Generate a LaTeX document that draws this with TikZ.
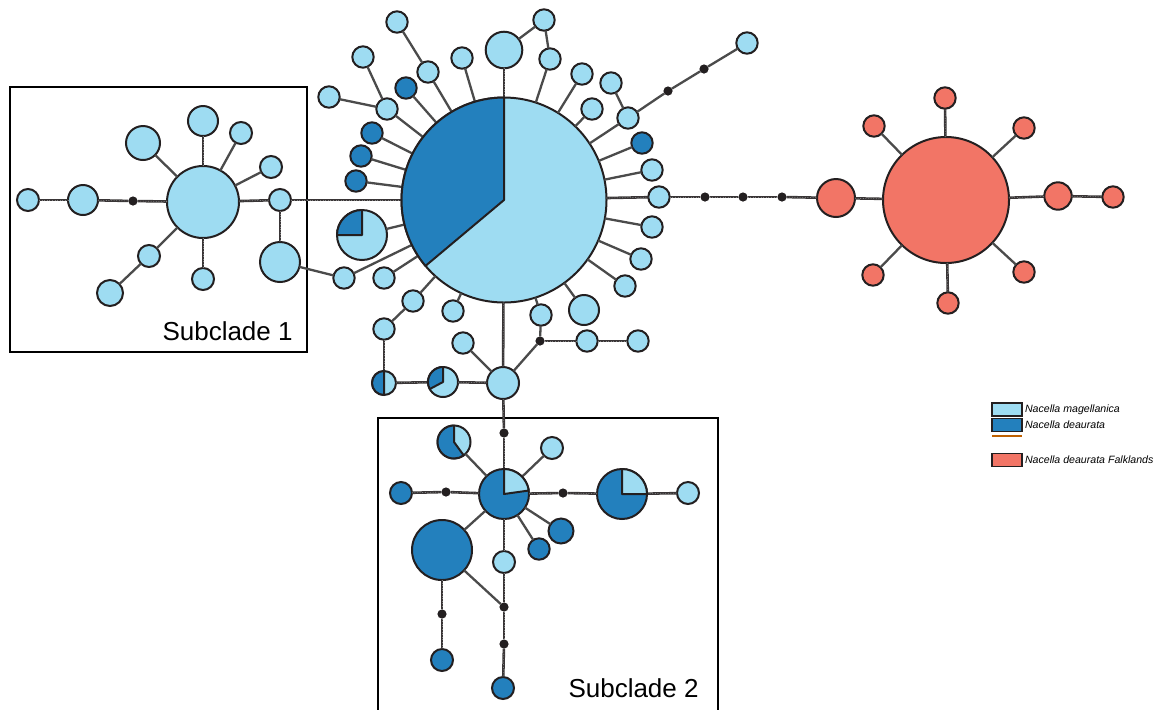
\documentclass[tikz,border=0pt]{standalone}
\usepackage{fontspec}
\setmainfont{Liberation Sans}
\definecolor{magc}{RGB}{158,220,242}
\definecolor{deac}{RGB}{35,128,189}
\definecolor{falc}{RGB}{242,117,102}
\definecolor{outl}{RGB}{35,31,32}
\definecolor{linkc}{RGB}{75,75,75}
\newcommand\pieslice[5]{\filldraw[fill=#5,draw=outl,line width=1pt,line join=round]
  (#1.center) -- (#1.#2) arc[start angle=#2,end angle=#3,radius=#4*0.5pt] -- cycle;}

\begin{document}
\begin{tikzpicture}[x=0.5pt,y=-0.5pt,
  hap/.style={circle,draw=outl,line width=1pt,inner sep=0pt,outer sep=0pt,minimum size=#1pt},
  mag/.style={hap=#1,fill=magc},mag/.default=10.7,
  dea/.style={hap=#1,fill=deac},dea/.default=10.7,
  fal/.style={hap=#1,fill=falc},fal/.default=10.7,
  med/.style={circle,fill=outl,inner sep=0pt,outer sep=0pt,minimum size=4.6pt},
  link/.style={draw=linkc,line width=1.15pt},
  mlink/.style={draw=outl!90,line width=1.3pt,postaction={draw=linkc!70,line width=0.3pt,dash pattern=on 0.5pt off 0.8pt}},
  frame/.style={draw=black,line width=1.2pt},
  legbox/.style={draw=outl,line width=0.6pt,minimum width=15pt,minimum height=6.5pt,inner sep=0pt},
  legtext/.style={anchor=west,inner sep=1pt,font=\itshape\fontsize{5.3}{6.4}\selectfont}]

  \useasboundingbox (0,0) rectangle (1155,709);

  \draw[frame] (10,87) rectangle (307,352);
  \draw[frame] (378,418) rectangle (718,730);

  \node[mag=102.5] (0) at (504,200){};
  \node[mag] (1) at (397,22){};
  \node[mag] (2) at (428,72){};
  \node[mag] (3) at (363,57){};
  \node[mag] (4) at (329,97){};
  \node[mag] (5) at (387,109){};
  \node[dea] (6) at (406,88){};
  \node[mag] (7) at (462,58){};
  \node[mag=18.3] (8) at (504,50){};
  \node[mag] (9) at (544,20){};
  \node[mag] (10) at (550,59){};
  \node[mag] (11) at (582,74){};
  \node[mag] (12) at (611,83){};
  \node[mag] (13) at (628,118){};
  \node[mag] (14) at (592,109){};
  \node[dea] (15) at (642,143){};
  \node[mag] (16) at (652,170){};
  \node[mag] (17) at (659,197){};
  \node[mag] (18) at (652,227){};
  \node[mag] (19) at (641,259){};
  \node[mag] (20) at (625,286){};
  \node[mag=15] (21) at (584,310){};
  \node[mag] (22) at (541,315){};
  \node[mag] (23) at (453,311){};
  \node[mag] (24) at (413,301){};
  \node[mag] (25) at (384,278){};
  \node[mag] (26) at (344,278){};
  \node[mag=25] (27) at (362,235){};
  \node[dea] (28) at (356,181){};
  \node[dea] (29) at (361,156){};
  \node[dea] (30) at (372,133){};
  \node[mag] (31) at (747,43){};
  \node[med] (32) at (668,91){};
  \node[med] (33) at (704,69){};

  \node[mag] (34) at (384,329){};
  \node[mag=12] (35) at (384,383){};
  \node[mag=15] (36) at (443,382){};
  \node[mag=16] (37) at (503,383){};
  \node[mag] (38) at (463,343){};
  \node[med] (39) at (540,341){};
  \node[mag] (40) at (587,341){};
  \node[mag] (41) at (638,341){};

  \node[mag=36] (42) at (203,202){};
  \node[mag=11] (43) at (28,200){};
  \node[mag=15] (44) at (83,200){};
  \node[med] (45) at (133,201){};
  \node[mag=17] (46) at (143,143){};
  \node[mag=15] (47) at (203,121){};
  \node[mag=11] (48) at (241,133){};
  \node[mag=11] (49) at (271,167){};
  \node[mag=11] (50) at (280,200){};
  \node[mag=20] (51) at (280,262){};
  \node[mag=11] (52) at (149,256){};
  \node[mag=13] (53) at (110,293){};
  \node[mag=11] (54) at (203,279){};

  \node[med] (55) at (504,433){};
  \node[dea=25] (56) at (504,494){};
  \node[mag=16.5] (57) at (454,442){};
  \node[mag=11] (58) at (552,448){};
  \node[med] (59) at (446,492){};
  \node[dea=11] (60) at (401,493){};
  \node[med] (61) at (563,493){};
  \node[dea=25] (62) at (622,494){};
  \node[mag=11] (63) at (688,493){};
  \node[dea=12.5] (64) at (561,531){};
  \node[dea] (65) at (539,549){};
  \node[mag=11] (66) at (504,562){};
  \node[dea=30] (67) at (442,550){};
  \node[med] (68) at (504,607){};
  \node[med] (69) at (442,614){};
  \node[dea=11] (70) at (442,660){};
  \node[med] (71) at (504,644){};
  \node[dea=11] (72) at (503,688){};

  \node[med] (73) at (705,197){};
  \node[med] (74) at (743,197){};
  \node[med] (75) at (782,197){};
  \node[fal=19] (76) at (836,198){};
  \node[fal=63] (77) at (946,200){};
  \node[fal] (78) at (945,98){};
  \node[fal] (79) at (874,126){};
  \node[fal] (80) at (1024,128){};
  \node[fal=13.7] (81) at (1058,196){};
  \node[fal] (82) at (1113,197){};
  \node[fal] (83) at (1024,272){};
  \node[fal] (84) at (948,303){};
  \node[fal] (85) at (873,275){};

  \path[link]
    (0) edge (2) (2) edge (1) (0) edge (5) (5) edge (3) (5) edge (4)
    (0) edge (6) (0) edge (7) (0) edge[mlink] (8) (8) edge (9) (9) edge (10)
    (10) edge (0) (0) edge (11) (12) edge (13) (13) edge (0) (0) edge (14)
    (0) edge (15) (0) edge (16) (0) edge[mlink] (17) (0) edge (18) (0) edge (19)
    (0) edge (20) (0) edge (21) (0) edge (22) (0) edge (23) (0) edge (24)
    (24) edge (34) (0) edge (25) (0) edge (26) (26) edge (51) (0) edge (27)
    (0) edge (28) (0) edge (29) (0) edge (30)
    (13) edge (32) (32) edge (33) (33) edge (31)
    (0) edge[mlink] (50) (0) edge[mlink] (37)
    (34) edge[mlink] (35) (35) edge[mlink] (36) (36) edge[mlink] (37)
    (37) edge (38) (37) edge (39) (39) edge (22)
    (39) edge[mlink] (40) (40) edge[mlink] (41)
    (43) edge[mlink] (44) (44) edge[mlink] (45) (45) edge[mlink] (42)
    (42) edge (46) (42) edge[mlink] (47) (42) edge (48) (42) edge (49)
    (42) edge[mlink] (50) (50) edge[mlink] (51) (42) edge (52) (52) edge (53)
    (42) edge[mlink] (54)
    (37) edge[mlink] (55) (55) edge[mlink] (56) (56) edge (57) (56) edge (58)
    (56) edge[mlink] (59) (59) edge[mlink] (60) (56) edge[mlink] (61)
    (61) edge[mlink] (62) (62) edge[mlink] (63) (56) edge (64) (56) edge (65)
    (56) edge[mlink] (66) (66) edge[mlink] (68) (56) edge (67) (67) edge (68)
    (67) edge[mlink] (69) (69) edge[mlink] (70) (68) edge[mlink] (71)
    (71) edge[mlink] (72)
    (17) edge[mlink] (73) (73) edge[mlink] (74) (74) edge[mlink] (75)
    (75) edge[mlink] (76) (76) edge[mlink] (77) (77) edge[mlink] (78)
    (77) edge (79) (77) edge (80) (77) edge[mlink] (81) (81) edge[mlink] (82)
    (77) edge (83) (77) edge[mlink] (84) (77) edge (85);

  \pieslice{0}{90}{220}{102.5}{deac}
  \pieslice{27}{90}{180}{25}{deac}
  \pieslice{35}{90}{270}{12}{deac}
  \pieslice{36}{90}{208}{15}{deac}
  \pieslice{57}{90}{306}{16.5}{deac}
  \pieslice{56}{8}{90}{25}{magc}
  \pieslice{62}{0}{90}{25}{magc}

  \node[anchor=base east,inner sep=0pt,font=\fontsize{13}{15}\selectfont] (s1) at (293,340) {Subclade 1};
  \node[anchor=base east,inner sep=0pt,font=\fontsize{13}{15}\selectfont] (s2) at (699,697) {Subclade 2};

  \node[legbox,fill=magc] (l1) at (1007,409.5){};
  \node[legbox,fill=deac] (l2) at (1007,425){};
  \fill[orange!75!black] (992,434.5) rectangle (1022,436.5);
  \node[legbox,fill=falc] (l3) at (1007,460){};
  \node[legtext] at (l1.east) {Nacella magellanica};
  \node[legtext] at (l2.east) {Nacella deaurata};
  \node[legtext] at (l3.east) {Nacella deaurata Falklands};
\end{tikzpicture}
\end{document}
